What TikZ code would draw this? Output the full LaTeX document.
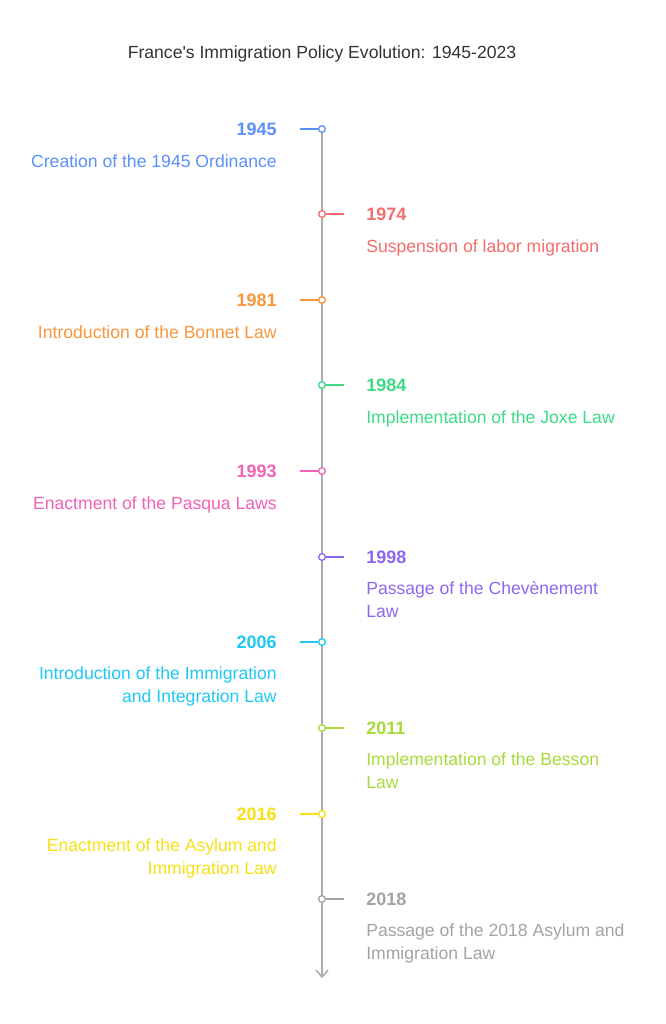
\documentclass[tikz,border=0pt]{standalone}
\usepackage{fontspec}
\setmainfont{Liberation Sans}
\usepackage{xcolor}
\usetikzlibrary{arrows.meta}

\definecolor{axisgray}{HTML}{ABABAB}
\definecolor{titlegray}{HTML}{333333}
\definecolor{cblue}{HTML}{5B8FF9}
\definecolor{cred}{HTML}{F56C6C}
\definecolor{corange}{HTML}{F7963A}
\definecolor{cgreen}{HTML}{3DDB85}
\definecolor{cpink}{HTML}{F062B5}
\definecolor{cpurple}{HTML}{8C68F0}
\definecolor{ccyan}{HTML}{1EC8F5}
\definecolor{clime}{HTML}{A6DB3A}
\definecolor{cyellow}{HTML}{F7E014}
\definecolor{cgray}{HTML}{A3A3A3}

\begin{document}
\begin{tikzpicture}[x=0.75pt, y=-0.75pt,
        axisline/.style={draw=axisgray, line width=1.5pt},
        tickline/.style={line width=1.5pt},
        dot/.style={circle, draw, fill=white, line width=1pt, inner sep=0pt, minimum size=5pt},
        yearlabel/.style={font=\fontsize{13.5}{16}\selectfont\bfseries, inner sep=0pt},
        desclabel/.style={font=\fontsize{13.2}{17}\selectfont, inner sep=0pt,
            execute at begin node={\rule{0pt}{10pt}}},
    ]
    \useasboundingbox (0,0) rectangle (665,1024);
    \node[font=\fontsize{13.2}{16}\selectfont, text=titlegray] (title) at (322,54) {France\textquotesingle s Immigration Policy Evolution: 1945-2023};

    % main axis
    \coordinate (axistop) at (322,129);
    \coordinate (axisend) at (322,978);
    \draw[axisline, -{Straight Barb[length=5pt, width=9pt, line width=1.2pt]}] (axistop) -- (axisend);

    % events on the left
    \foreach \y/\yr/\col/\txt in {
            129/1945/cblue/{Creation of the 1945 Ordinance},
            300/1981/corange/{Introduction of the Bonnet Law},
            471/1993/cpink/{Enactment of the Pasqua Laws},
            642/2006/ccyan/{Introduction of the Immigration\\and Integration Law},
            814/2016/cyellow/{Enactment of the Asylum and\\Immigration Law}} {
        \node[dot, draw=\col] (dot\yr) at (322,\y) {};
        \coordinate (tick\yr) at (300,\y);
        \draw[tickline, draw=\col] (tick\yr) -- (dot\yr.west);
        \node[yearlabel, text=\col, anchor=base east] (yr\yr) at (277,\y+6) {\yr};
        \node[desclabel, text=\col, anchor=north east, align=right] (txt\yr) at (277,\y+24.7) {\txt};
    }

    % events on the right
    \foreach \y/\yr/\col/\txt in {
            214/1974/cred/{Suspension of labor migration},
            385/1984/cgreen/{Implementation of the Joxe Law},
            557/1998/cpurple/{Passage of the Chevènement\\Law},
            728/2011/clime/{Implementation of the Besson\\Law},
            899/2018/cgray/{Passage of the 2018 Asylum and\\Immigration Law}} {
        \node[dot, draw=\col] (dot\yr) at (322,\y) {};
        \coordinate (tick\yr) at (344,\y);
        \draw[tickline, draw=\col] (dot\yr.east) -- (tick\yr);
        \node[yearlabel, text=\col, anchor=base west] (yr\yr) at (366,\y+6) {\yr};
        \node[desclabel, text=\col, anchor=north west, align=left] (txt\yr) at (366,\y+24.7) {\txt};
    }
\end{tikzpicture}
\end{document}
